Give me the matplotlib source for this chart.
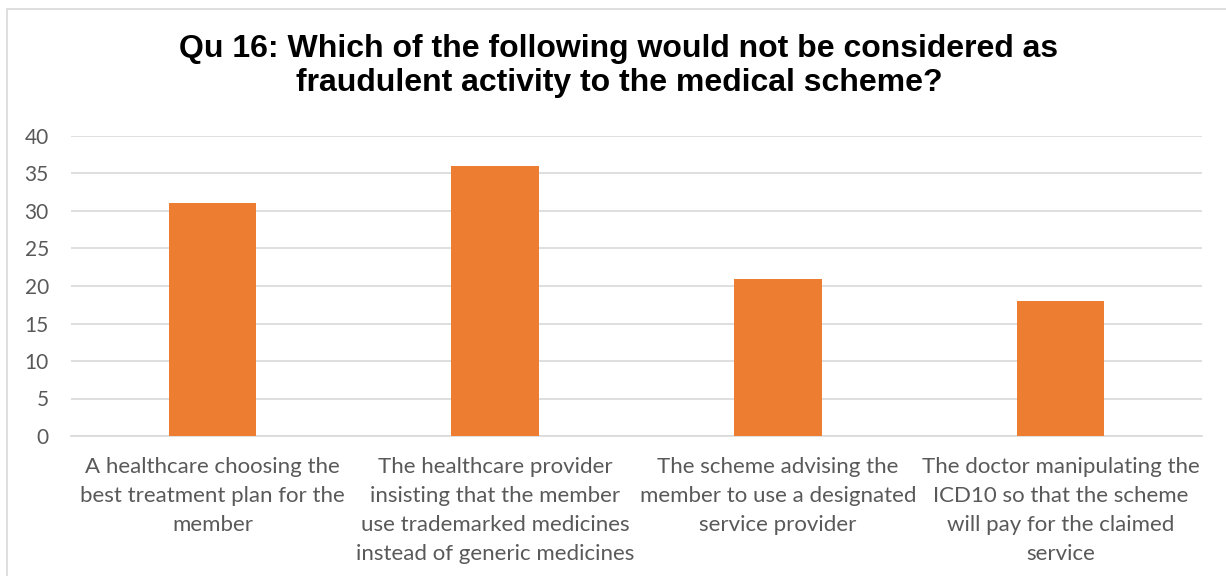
import matplotlib.pyplot as plt
import numpy as np
from matplotlib.patches import Rectangle

categories = [
    "A healthcare choosing the\nbest treatment plan for the\nmember",
    "The healthcare provider\ninsisting that the member\nuse trademarked medicines\ninstead of generic medicines",
    "The scheme advising the\nmember to use a designated\nservice provider",
    "The doctor manipulating the\nICD10 so that the scheme\nwill pay for the claimed\nservice",
]
values = [31, 36, 21, 18]
yticks = [0, 5, 10, 15, 20, 25, 30, 35, 40]

W, H = 1226, 576
fig = plt.figure(figsize=(W / 100, H / 100), dpi=100)

# chart frame
fig.patches.append(Rectangle((7 / W, -0.1), 1.2, 1 - 9 / H + 0.1,
                             transform=fig.transFigure, fill=False,
                             edgecolor="#d9d9d9", linewidth=1.2))

ax = fig.add_axes([71 / W, 1 - 436 / H, (1202 - 71) / W, 300 / H])
x = np.arange(len(values))
ax.bar(x, values, width=0.31, color="#ed7d31", zorder=3)

ax.set_xlim(-0.5, len(values) - 0.5)
ax.set_ylim(0, 40)
ax.set_yticks(yticks)
ax.set_yticklabels([str(v) for v in yticks])
ax.grid(axis="y", color="#d9d9d9", linewidth=1.2, zorder=0)
for s in ["top", "right", "left"]:
    ax.spines[s].set_visible(False)
ax.spines["bottom"].set_color("#d9d9d9")
ax.spines["bottom"].set_linewidth(1.2)
ax.tick_params(axis="both", length=0, colors="#595959")
ax.tick_params(axis="x", pad=15, labelsize=16)
ax.tick_params(axis="y", pad=16, labelsize=15)
ax.set_xticks(x)
ax.set_xticklabels(categories)
for t in ax.get_xticklabels():
    t.set_family("Lato")
    t.set_linespacing(1.57)
for t in ax.get_yticklabels():
    t.set_family("Lato")

fig.text(619 / W, 1 - 66 / H,
         "Qu 16: Which of the following would not be considered as\nfraudulent activity to the medical scheme?",
         ha="center", va="center", family="Liberation Sans", weight="bold",
         fontsize=23, linespacing=1.2, color="black")

fig.savefig("out.png", dpi=100)
